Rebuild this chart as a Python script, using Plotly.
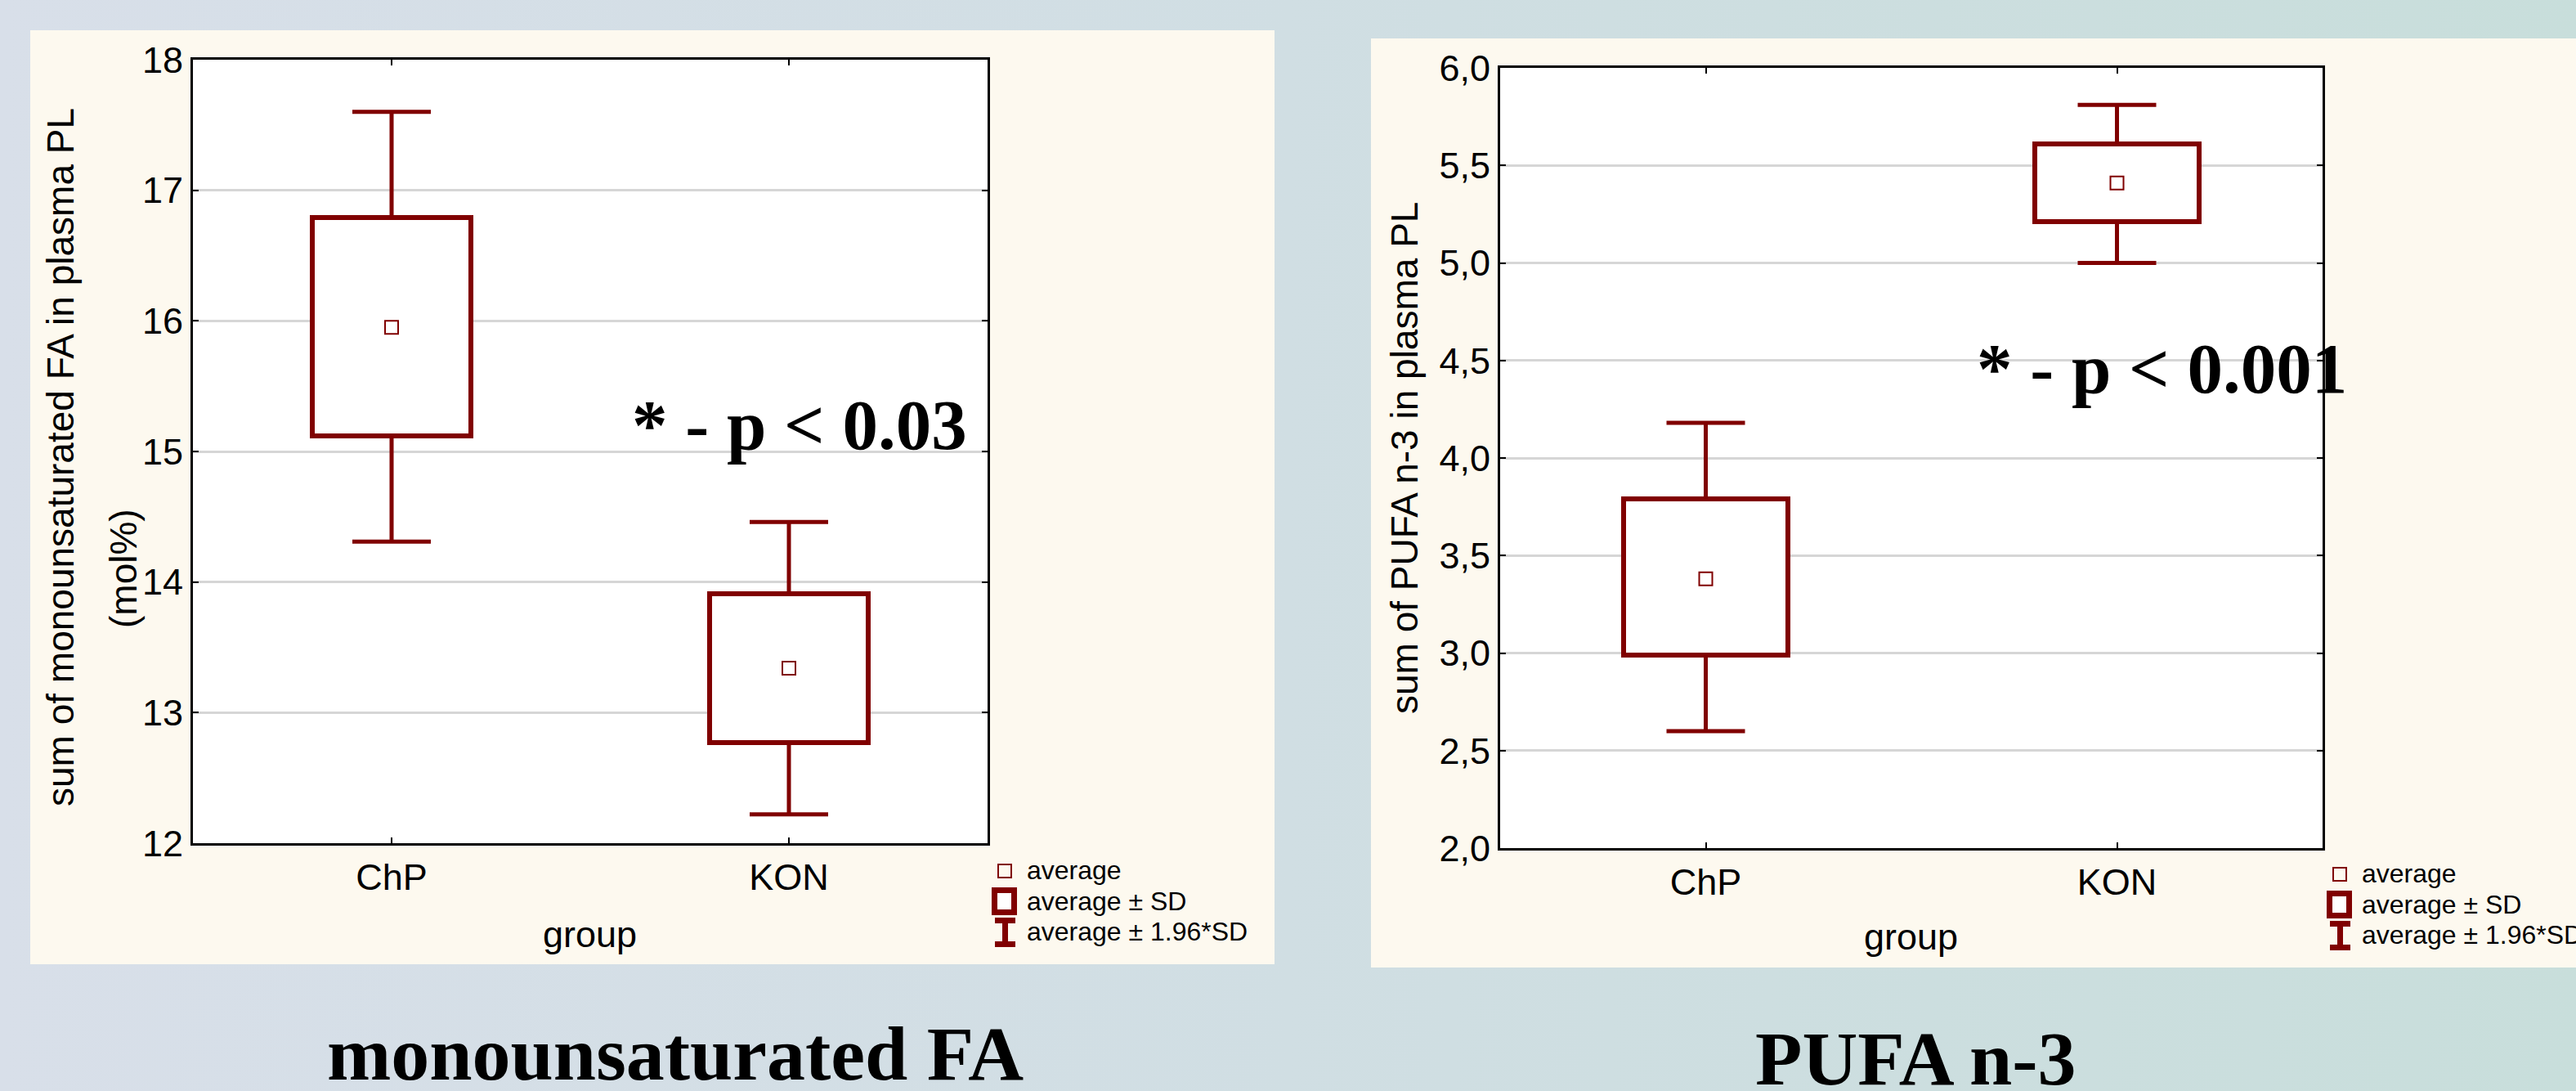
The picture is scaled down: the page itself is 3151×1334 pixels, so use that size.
import base64
import plotly.graph_objects as go

W, H = 3151, 1334

# ---------------- data ----------------
categories = ["ChP", "KON"]

mufa_mean = [15.95, 13.34]
mufa_sd_low = [15.12, 12.77]
mufa_sd_high = [16.79, 13.91]
mufa_ci_low = [14.31, 12.22]
mufa_ci_high = [17.60, 14.46]

pufa_mean = [3.38, 5.41]
pufa_sd_low = [2.99, 5.21]
pufa_sd_high = [3.79, 5.61]
pufa_ci_low = [2.60, 5.00]
pufa_ci_high = [4.18, 5.81]

mufa_ticks = [12, 13, 14, 15, 16, 17, 18]
mufa_ticktext = ["12", "13", "14", "15", "16", "17", "18"]
pufa_ticks = [2.0, 2.5, 3.0, 3.5, 4.0, 4.5, 5.0, 5.5, 6.0]
pufa_ticktext = ["2,0", "2,5", "3,0", "3,5", "4,0", "4,5", "5,0", "5,5", "6,0"]

legend_labels = ["average", "average ± SD", "average ± 1.96*SD"]

# ---------------- style ----------------
RED = "#800000"
SANS = "Liberation Sans, Arial, sans-serif"
SERIF = "Liberation Serif, Times New Roman, serif"


def px(x):
    return x / W


def py(y):
    return 1 - y / H


fig = go.Figure()


def add_panel(xa, ya, mean, sd_low, sd_high, ci_low, ci_high):
    fig.add_trace(go.Bar(
        x=categories, y=[h - l for h, l in zip(sd_high, sd_low)], base=sd_low,
        width=0.4, xaxis=xa, yaxis=ya, showlegend=False, hoverinfo="skip",
        marker=dict(color="white", line=dict(color=RED, width=6)),
    ))
    fig.add_trace(go.Scatter(
        x=categories, y=sd_high, mode="markers", xaxis=xa, yaxis=ya,
        marker=dict(size=1, opacity=0), showlegend=False, hoverinfo="skip",
        error_y=dict(type="data", symmetric=False,
                     array=[c - s for c, s in zip(ci_high, sd_high)],
                     arrayminus=[0 for _ in sd_high],
                     color=RED, thickness=5, width=48),
    ))
    fig.add_trace(go.Scatter(
        x=categories, y=sd_low, mode="markers", xaxis=xa, yaxis=ya,
        marker=dict(size=1, opacity=0), showlegend=False, hoverinfo="skip",
        error_y=dict(type="data", symmetric=False,
                     array=[0 for _ in sd_low],
                     arrayminus=[s - c for s, c in zip(sd_low, ci_low)],
                     color=RED, thickness=5, width=48),
    ))
    fig.add_trace(go.Scatter(
        x=categories, y=mean, mode="markers", xaxis=xa, yaxis=ya,
        showlegend=False,
        marker=dict(symbol="square-open", size=16, color=RED, line=dict(width=2, color=RED)),
    ))


add_panel("x", "y", mufa_mean, mufa_sd_low, mufa_sd_high, mufa_ci_low, mufa_ci_high)
add_panel("x2", "y2", pufa_mean, pufa_sd_low, pufa_sd_high, pufa_ci_low, pufa_ci_high)

axis_common = dict(
    showline=True, linecolor="black", linewidth=3, mirror="ticks",
    ticks="inside", ticklen=7, tickwidth=2, tickcolor="black",
    tickfont=dict(family=SANS, size=45, color="black"),
    zeroline=False, fixedrange=True, automargin=False,
)
xcommon = dict(axis_common, type="category", range=[-0.5, 1.5], showgrid=False)
ycommon = dict(axis_common, showgrid=True, gridcolor="#d6d6d6", gridwidth=2.5)

fig.update_layout(
    width=W, height=H,
    margin=dict(l=0, r=0, t=0, b=0, pad=0, autoexpand=False),
    paper_bgcolor="#d0dee3",
    plot_bgcolor="white",
    bargap=0,
    xaxis=dict(xcommon, domain=[px(236), px(1208)], anchor="y"),
    yaxis=dict(ycommon, domain=[py(1031), py(73)], anchor="x", range=[12, 18],
               tickvals=mufa_ticks, ticktext=mufa_ticktext),
    xaxis2=dict(xcommon, domain=[px(1835), px(2841)], anchor="y2"),
    yaxis2=dict(ycommon, domain=[py(1037), py(83)], anchor="x2", range=[2, 6],
                tickvals=pufa_ticks, ticktext=pufa_ticktext),
)

# background gradient
svg = ('<svg xmlns="http://www.w3.org/2000/svg" width="%d" height="%d">'
       '<defs><linearGradient id="g" x1="0" y1="0" x2="1" y2="0">'
       '<stop offset="0" stop-color="#d8dfe9"/>'
       '<stop offset="0.5" stop-color="#d0dee3"/>'
       '<stop offset="1" stop-color="#c8dedb"/>'
       '</linearGradient></defs>'
       '<rect width="%d" height="%d" fill="url(#g)"/></svg>') % (W, H, W, H)
src = "data:image/svg+xml;base64," + base64.b64encode(svg.encode()).decode()
fig.add_layout_image(dict(source=src, xref="paper", yref="paper", x=0, y=1,
                          sizex=1, sizey=1, sizing="stretch", layer="below",
                          xanchor="left", yanchor="top"))

shapes = []
# cream panels
for (x0, y0, x1, y1) in [(37, 37, 1559, 1179), (1677, 47, 3151, 1183)]:
    shapes.append(dict(type="rect", xref="paper", yref="paper", layer="below",
                       x0=px(x0), x1=px(x1), y0=py(y1), y1=py(y0),
                       fillcolor="#fdf9ef", line=dict(width=0)))
# white plot backgrounds
for xr, yr in [("x domain", "y domain"), ("x2 domain", "y2 domain")]:
    shapes.append(dict(type="rect", xref=xr, yref=yr, layer="below",
                       x0=0, x1=1, y0=0, y1=1, fillcolor="white", line=dict(width=0)))

annotations = []


def ann(text, x, y, size, family=SANS, angle=0, xanchor="center", bold=False):
    annotations.append(dict(
        text=("<b>%s</b>" % text) if bold else text,
        x=px(x), y=py(y), xref="paper", yref="paper", showarrow=False,
        xanchor=xanchor, yanchor="middle", textangle=angle,
        font=dict(family=family, size=size, color="black"),
    ))


# legends
def legend(dx, dy):
    # average marker
    shapes.append(dict(type="rect", xref="paper", yref="paper",
                       x0=px(1221 + dx), x1=px(1237 + dx), y0=py(1073 + dy), y1=py(1057 + dy),
                       fillcolor="rgba(0,0,0,0)", line=dict(color=RED, width=2)))
    # SD box
    shapes.append(dict(type="rect", xref="paper", yref="paper",
                       x0=px(1216.5 + dx), x1=px(1240.5 + dx), y0=py(1115.5 + dy), y1=py(1088.5 + dy),
                       fillcolor="white", line=dict(color=RED, width=7)))
    # whisker I
    for (a, b, c, d) in [(1217, 1125.5, 1242, 1125.5), (1229.5, 1122, 1229.5, 1158),
                         (1217, 1154.5, 1242, 1154.5)]:
        shapes.append(dict(type="line", xref="paper", yref="paper",
                           x0=px(a + dx), y0=py(b + dy), x1=px(c + dx), y1=py(d + dy),
                           line=dict(color=RED, width=7)))
    for lbl, yc in zip(legend_labels, [1064, 1102, 1139]):
        ann(lbl, 1254 + dx, yc + dy, 32, xanchor="left")


legend(0, 0)
legend(1633, 4)

# axis titles
ann("sum of monounsaturated FA in plasma PL", 74, 559, 46, angle=-90)
ann("(mol%)", 151, 695, 46, angle=-90)
ann("sum of PUFA n-3 in plasma PL", 1718, 560, 46, angle=-90)
ann("group", 721, 1142, 45)
ann("group", 2337, 1145, 45)

# p-value annotations
ann("* - p &lt; 0.03", 978, 519, 87, family=SERIF, bold=True)
ann("* - p &lt; 0.001", 2644, 450, 87, family=SERIF, bold=True)

# bottom titles
ann("monounsaturated FA", 826, 1288, 94, family=SERIF, bold=True)
ann("PUFA n-3", 2343, 1294, 94, family=SERIF, bold=True)

fig.update_layout(shapes=shapes, annotations=annotations)

fig.write_html(
    "out.html",
    config={"displayModeBar": False},
    post_script="document.body.style.margin='0';document.body.style.overflow='hidden';",
)
